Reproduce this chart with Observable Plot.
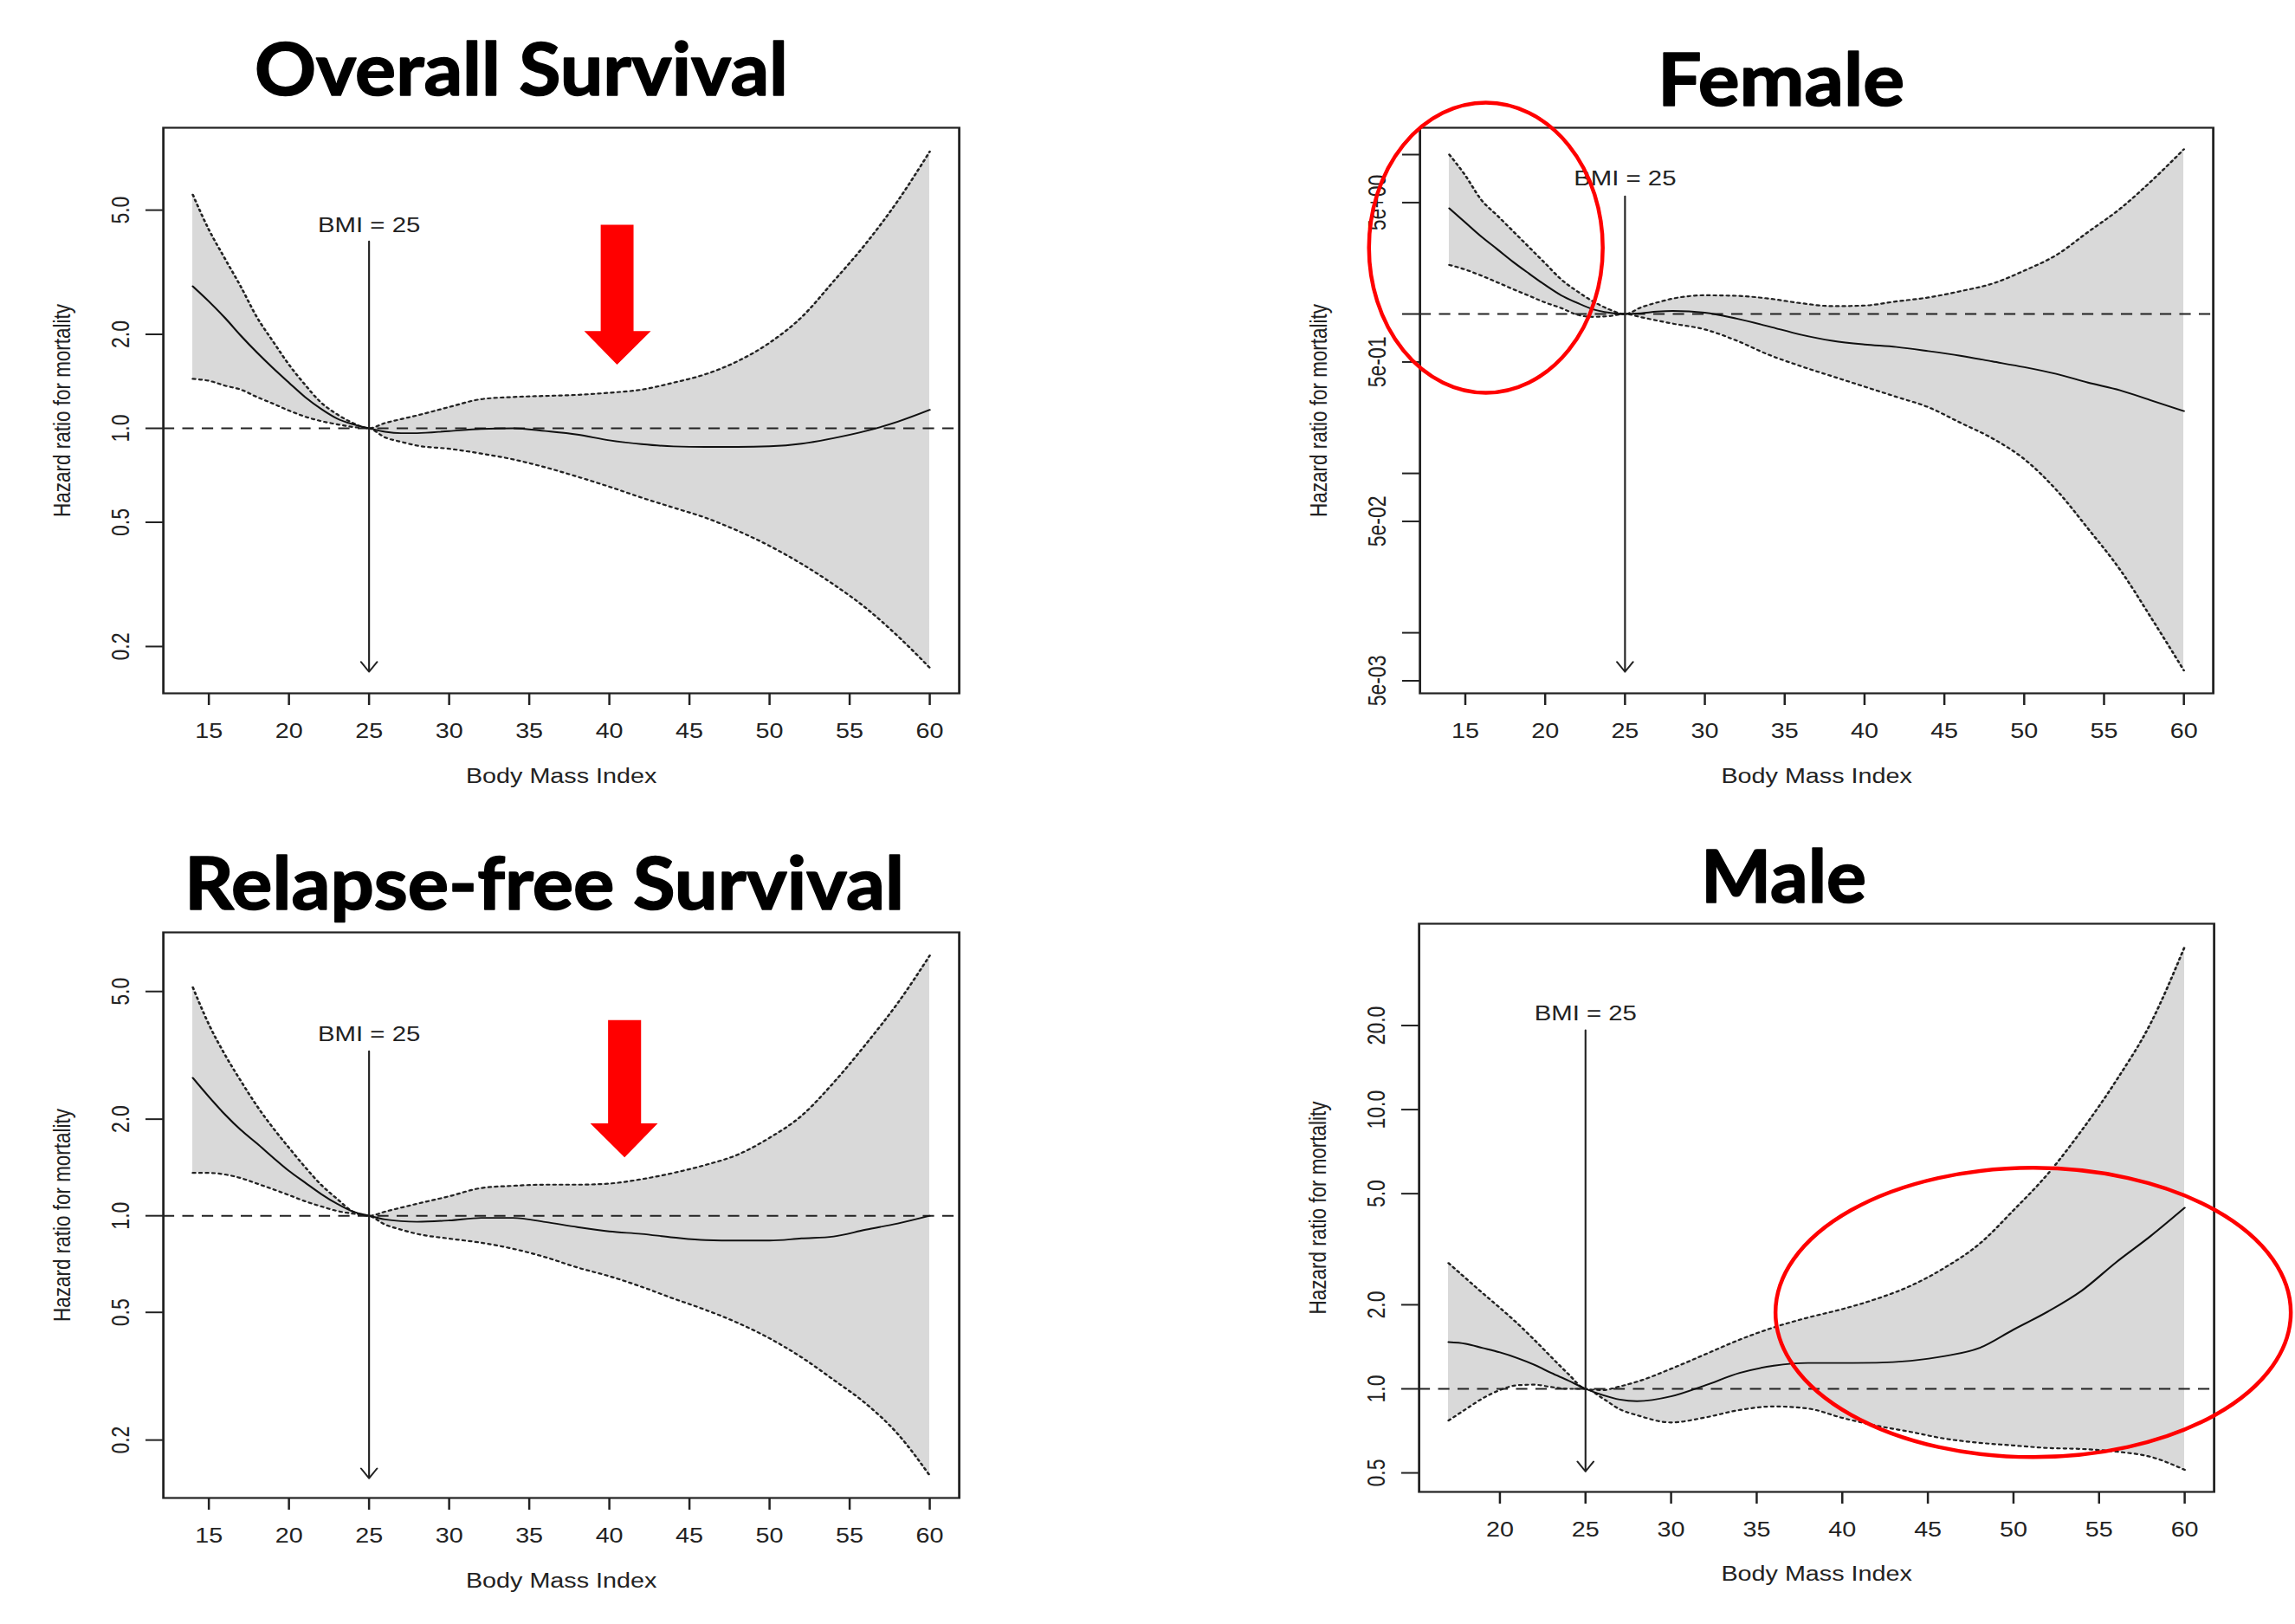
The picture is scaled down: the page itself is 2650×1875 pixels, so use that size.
<!DOCTYPE html>
<html>
<head>
<meta charset="utf-8">
<script src="https://cdn.jsdelivr.net/npm/d3@7"></script>
<script src="https://cdn.jsdelivr.net/npm/@observablehq/plot@0.6"></script>
<style>
html, body { margin: 0; padding: 0; background: #fff; overflow: hidden; }
#page { position: relative; width: 2650px; height: 1875px; background: #fff; overflow: hidden; }
.panel { position: absolute; transform-origin: 0 0; }
#overlay { position: absolute; left: 0; top: 0; z-index: 5; pointer-events: none; }
</style>
</head>
<body>
<div id="page"></div>
<script>
// ---------------- DATA ----------------
const bmiGrid = [14,15,16,17,18,19,20,21,22,23,24,25,26,27,28,30,32,34,36,38,40,42,44,46,48,50,52,54,56,58,60];

// Overall survival
const osHR    = [2.85,2.55,2.26,1.98,1.75,1.56,1.40,1.26,1.155,1.075,1.03,1.0,0.975,0.965,0.965,0.98,0.995,1.0,0.98,0.955,0.915,0.89,0.875,0.872,0.872,0.876,0.893,0.93,0.98,1.05,1.146];
const osUpper = [5.6,4.33,3.5,2.84,2.27,1.9,1.6,1.38,1.21,1.11,1.04,1.0,1.04,1.07,1.10,1.17,1.24,1.26,1.27,1.28,1.30,1.33,1.40,1.49,1.64,1.88,2.27,2.96,3.9,5.35,7.7];
const osLower = [1.44,1.42,1.37,1.33,1.26,1.2,1.14,1.09,1.055,1.03,1.01,1.0,0.935,0.905,0.88,0.86,0.83,0.795,0.75,0.70,0.65,0.60,0.557,0.517,0.47,0.42,0.368,0.316,0.266,0.216,0.171];

// Female
const femHR    = [4.6,3.75,3.06,2.55,2.12,1.79,1.52,1.31,1.175,1.07,1.02,1.0,1.01,1.035,1.045,1.02,0.935,0.836,0.742,0.679,0.644,0.621,0.585,0.547,0.504,0.464,0.421,0.371,0.332,0.286,0.246];
const femUpper = [10.0,7.4,5.2,4.15,3.3,2.62,2.08,1.65,1.39,1.2,1.07,1.0,1.1,1.18,1.25,1.31,1.3,1.25,1.17,1.12,1.13,1.2,1.27,1.39,1.55,1.87,2.34,3.27,4.57,6.88,10.8];
const femLower = [2.03,1.9,1.74,1.58,1.43,1.3,1.18,1.09,0.99,0.96,0.97,1.0,0.955,0.91,0.87,0.8,0.68,0.555,0.471,0.406,0.35,0.302,0.26,0.208,0.166,0.123,0.079,0.045,0.0249,0.0122,0.0058];

// Relapse-free survival
const rfsHR    = [2.69,2.35,2.07,1.85,1.68,1.52,1.38,1.27,1.17,1.09,1.03,1.0,0.974,0.962,0.958,0.967,0.985,0.985,0.956,0.922,0.894,0.878,0.856,0.84,0.837,0.837,0.85,0.862,0.905,0.946,1.0];
const rfsUpper = [5.15,3.95,3.18,2.63,2.2,1.88,1.63,1.42,1.25,1.13,1.03,1.0,1.03,1.06,1.09,1.15,1.22,1.24,1.25,1.25,1.26,1.30,1.36,1.44,1.55,1.75,2.05,2.60,3.42,4.6,6.47];
const rfsLower = [1.36,1.36,1.345,1.31,1.26,1.21,1.16,1.11,1.07,1.035,1.015,1.0,0.939,0.905,0.878,0.849,0.824,0.789,0.743,0.69,0.648,0.601,0.552,0.509,0.464,0.415,0.362,0.308,0.26,0.209,0.155];

// Male
const maleBmi   = [17,18,19,20,21,22,23,24,25,26,27,28,30,32,34,36,38,40,42,44,46,48,50,52,54,56,58,60];
const maleHR    = [1.47,1.45,1.4,1.35,1.29,1.22,1.14,1.07,1.0,0.95,0.915,0.903,0.94,1.03,1.14,1.21,1.238,1.238,1.24,1.26,1.31,1.40,1.63,1.89,2.25,2.84,3.52,4.45];
const maleUpper = [2.82,2.49,2.2,1.95,1.72,1.5,1.3,1.13,1.0,0.99,1.02,1.06,1.18,1.33,1.5,1.66,1.8,1.93,2.1,2.34,2.72,3.3,4.36,5.88,8.45,12.7,20.3,38.3];
const maleLower = [0.77,0.845,0.925,0.99,1.03,1.035,1.015,1.0,1.0,0.925,0.845,0.805,0.758,0.79,0.84,0.865,0.85,0.787,0.738,0.701,0.663,0.641,0.627,0.614,0.609,0.596,0.571,0.513];

// Tick values and labels
const xTicks        = [15,20,25,30,35,40,45,50,55,60];
const xTicksMale    = [20,25,30,35,40,45,50,55,60];
const yTicksStd     = [0.2,0.5,1,2,5];
const yTicksFem     = [0.005,0.01,0.05,0.1,0.5,1,5,10];
const yLabelTicksFem = [0.005,0.05,0.5,5];
const yLabelsFem    = ["5e-03","5e-02","5e-01","5e+00"];
const yTicksMale    = [0.5,1,2,5,10,20];

// Texts
const panelTitles = ["Overall Survival","Female","Relapse-free Survival","Male"];
const yTitle = "Hazard ratio for mortality";
const xTitle = "Body Mass Index";
const refLabel = "BMI = 25";

// Reference marker at BMI 25: [bmi, label HR, arrow start HR, arrow end HR]
const osRef   = [25, 4.26, 3.97, 0.166];
const femRef  = [25, 6.45, 5.48, 0.00569];
const rfsRef  = [25, 3.51, 3.26, 0.152];
const maleRef = [25, 20.9, 19.25, 0.506];

// Red block arrows (annotation, in data units)
const osArrowBmi  = [39.46,41.51,41.51,42.59,40.48,38.43,39.46];
const osArrowHR   = [4.49,4.49,2.05,2.05,1.60,2.05,2.05];
const rfsArrowBmi = [39.92,41.98,41.98,43.02,40.95,38.81,39.92];
const rfsArrowHR  = [4.07,4.07,1.94,1.94,1.52,1.94,1.94];

// Red ellipses (annotation): [center bmi, center HR, radius in BMI, radius in log10 decades]
const femEllipse  = [16.32, 2.59, 7.32, 0.91];
const maleEllipse = [51.18, 1.87, 15.05, 0.518];

// ---------------- LAYOUT ----------------
const S = 1.25; // horizontal stretch of the original graphic
const page = document.getElementById("page");
const FONT = "'Liberation Sans', Arial, Helvetica, sans-serif";
const INK = "#222";

function buildPanel(p) {
  const padL = 190, padR = 100, padT = 70, padB = 130;
  const mL = padL / S, mR = padR / S;
  const innerW = (p.box.right - p.box.left) / S;
  const innerH = p.box.bottom - p.box.top;
  const rows = p.bmi.map((b, i) => ({bmi: b, hr: p.hr[i], lo: p.lo[i], hi: p.hi[i]}));
  const ref = [{bmi: p.ref[0], labelHR: p.ref[1], fromHR: p.ref[2], toHR: p.ref[3], label: refLabel}];
  const yLab = p.yLabelTicks.map((v, i) => ({v, t: p.yLabels[i]}));
  const dotted = {stroke: INK, strokeWidth: 2.2, strokeDasharray: "2.2,3.8", curve: "monotone-x"};
  const marks = [
    Plot.areaY(rows, {x: "bmi", y1: "lo", y2: "hi", fill: "#d9d9d9", curve: "monotone-x"}),
    Plot.ruleY([1], {stroke: INK, strokeWidth: 2, strokeDasharray: "10.5,7.5"}),
    Plot.line(rows, {x: "bmi", y: "hi", ...dotted}),
    Plot.line(rows, {x: "bmi", y: "lo", ...dotted}),
    Plot.line(rows, {x: "bmi", y: "hr", stroke: "#111", strokeWidth: 1.9, curve: "monotone-x"}),
    Plot.arrow(ref, {x1: "bmi", x2: "bmi", y1: "fromHR", y2: "toHR", stroke: INK, strokeWidth: 1.7, headLength: 12, headAngle: 66}),
    Plot.text(ref, {x: "bmi", y: "labelHR", text: "label", lineAnchor: "bottom", textAnchor: "middle", fontSize: 23.5, fill: INK}),
    Plot.frame({stroke: INK, strokeWidth: 2.2}),
    Plot.axisX({ticks: p.xTicks, tickFormat: d => String(d), tickSize: 14, tickPadding: 21, fontSize: 23, strokeWidth: 2, label: null}),
    Plot.axisY({ticks: p.yTicks, tickFormat: () => "", tickSize: 16, tickPadding: 16, strokeWidth: 2, label: null}),
    Plot.text(yLab, {y: "v", text: "t", frameAnchor: "left", dx: -32, rotate: -90, textAnchor: "middle", lineAnchor: "bottom", fontSize: 23, fill: INK}),
    Plot.text([yTitle], {frameAnchor: "left", dx: -117 / S, rotate: -90, text: d => d, textAnchor: "middle", lineAnchor: "middle", fontSize: 22.5, fill: INK}),
    Plot.text([xTitle], {frameAnchor: "bottom", dy: p.xTitleDy, text: d => d, textAnchor: "middle", lineAnchor: "middle", fontSize: 23, fill: INK})
  ];
  if (p.redArrow) {
    const arr = p.redArrow[0].map((b, i) => ({bmi: b, hr: p.redArrow[1][i]}));
    marks.push(Plot.line(arr, {x: "bmi", y: "hr", fill: "#ff0000", stroke: "none"}));
  }
  const chart = Plot.plot({
    width: mL + innerW + mR,
    height: padT + innerH + padB,
    marginLeft: mL, marginRight: mR, marginTop: padT, marginBottom: padB,
    x: {domain: p.xDomain},
    y: {type: "log", domain: p.yDomain},
    style: `font-family: ${FONT}; font-size: 23px; color: ${INK}; background: transparent; overflow: visible; max-width: none;`,
    marks
  });
  const left = p.box.left - padL, top = p.box.top - padT;
  const div = document.createElement("div");
  div.className = "panel";
  div.style.left = left + "px";
  div.style.top = top + "px";
  div.style.transform = `scaleX(${S})`;
  div.appendChild(chart);
  page.appendChild(div);
  return {chart, left, top};
}

const fmt1 = d3.format(".1f");
const panels = [
  {box: {left: 188, right: 1107, top: 147, bottom: 800}, bmi: bmiGrid, hr: osHR, lo: osLower, hi: osUpper,
   xDomain: [12.16, 61.84], yDomain: [0.1416, 9.18], xTicks, yTicks: yTicksStd,
   yLabelTicks: yTicksStd, yLabels: yTicksStd.map(fmt1), ref: osRef,
   redArrow: [osArrowBmi, osArrowHR], xTitleDy: 96},
  {box: {left: 1639, right: 2555, top: 147, bottom: 800}, bmi: bmiGrid, hr: femHR, lo: femLower, hi: femUpper,
   xDomain: [12.16, 61.84], yDomain: [0.00417, 14.74], xTicks, yTicks: yTicksFem,
   yLabelTicks: yLabelTicksFem, yLabels: yLabelsFem, ref: femRef, xTitleDy: 96},
  {box: {left: 188, right: 1107, top: 1076, bottom: 1729}, bmi: bmiGrid, hr: rfsHR, lo: rfsLower, hi: rfsUpper,
   xDomain: [12.16, 61.84], yDomain: [0.132, 7.64], xTicks, yTicks: yTicksStd,
   yLabelTicks: yTicksStd, yLabels: yTicksStd.map(fmt1), ref: rfsRef,
   redArrow: [rfsArrowBmi, rfsArrowHR], xTitleDy: 96},
  {box: {left: 1638, right: 2556, top: 1066, bottom: 1722}, bmi: maleBmi, hr: maleHR, lo: maleLower, hi: maleUpper,
   xDomain: [15.28, 61.72], yDomain: [0.4275, 46.3], xTicks: xTicksMale, yTicks: yTicksMale,
   yLabelTicks: yTicksMale, yLabels: yTicksMale.map(fmt1), ref: maleRef, xTitleDy: 95}
];
const built = panels.map(buildPanel);

// ---------------- OVERLAY: titles and red ellipses ----------------
const overlay = d3.select(page).append("svg")
  .attr("id", "overlay").attr("width", 2650).attr("height", 1875);

const titlePos = [
  {x: 294, y: 110, w: 616},
  {x: 1914, y: 122, w: 285},
  {x: 213, y: 1050, w: 831},
  {x: 1964, y: 1042, w: 191}
];
panelTitles.forEach((t, i) => {
  overlay.append("text")
    .attr("x", titlePos[i].x).attr("y", titlePos[i].y)
    .attr("textLength", titlePos[i].w).attr("lengthAdjust", "spacingAndGlyphs")
    .attr("font-family", "Lato, 'Open Sans', 'Noto Sans', sans-serif")
    .attr("font-weight", 700).attr("font-size", 85).attr("fill", "#000")
    .attr("stroke", "#000").attr("stroke-width", 1.6).attr("stroke-linejoin", "round")
    .text(t);
});

function drawEllipse(b, e) {
  const xs = b.chart.scale("x"), ys = b.chart.scale("y");
  const cx = b.left + S * xs.apply(e[0]);
  const rx = S * (xs.apply(e[0] + e[2]) - xs.apply(e[0]));
  const cy = b.top + ys.apply(e[1]);
  const ry = ys.apply(e[1]) - ys.apply(e[1] * Math.pow(10, e[3]));
  overlay.append("ellipse")
    .attr("cx", cx).attr("cy", cy).attr("rx", rx).attr("ry", ry)
    .attr("fill", "none").attr("stroke", "#ff0000").attr("stroke-width", 4.5);
}
drawEllipse(built[1], femEllipse);
drawEllipse(built[3], maleEllipse);
</script>
</body>
</html>
